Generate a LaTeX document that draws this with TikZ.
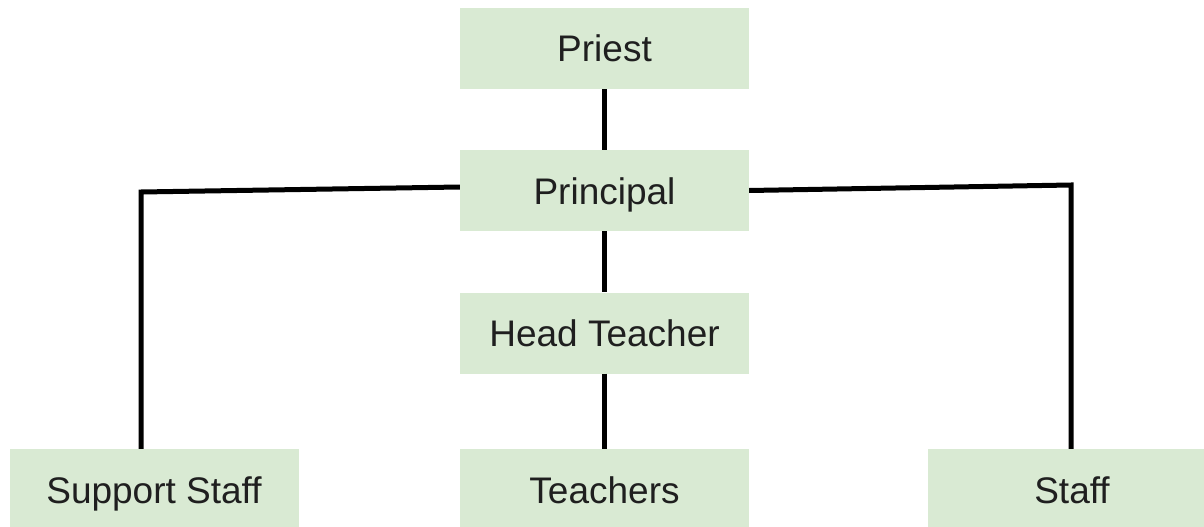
\documentclass[tikz,border=0pt]{standalone}
\usepackage{fontspec}
\setmainfont{Liberation Sans}
\definecolor{boxgreen}{HTML}{D9EAD3}
\definecolor{txt}{HTML}{1F1F1F}
\begin{document}
\begin{tikzpicture}[x=1pt,y=-1pt,
  role/.style={fill=boxgreen, draw=none, minimum width=289pt, minimum height=81pt,
    inner sep=0pt, text height=27pt, text depth=0pt, text=txt,
    font=\fontsize{37}{41}\selectfont},
  link/.style={line width=5pt, line join=miter, black}]
  \useasboundingbox (0,0) rectangle (1204,527);
  \clip (0,0) rectangle (1204,527);
  \fill[white] (0,0) rectangle (1204,527);

  % boxes of the chart
  \node[role] (priest)    at (604.5,48.5)  {Priest};
  \node[role] (principal) at (604.5,190.5) {Principal};
  \node[role] (head)      at (604.5,333)   {Head Teacher};
  \node[role] (teachers)  at (604.5,489.5) {Teachers};
  \node[role] (support)   at (154,489.5)   {Support Staff};
  \node[role] (staff)     at (1072,489.5)  {Staff};

  % corners of the side branches
  \coordinate (lcorner) at (141,192);
  \coordinate (rcorner) at (1071,185);

  % connectors
  \draw[link] (priest.south) -- (principal.north);
  \draw[link] (principal.south) -- (head.north);
  \draw[link] (head.south) -- (teachers.north);
  \draw[link] ([yshift=3.5pt]principal.west) -- (lcorner) -- (lcorner |- support.north);
  \draw[link] (principal.east) -- (rcorner) -- (rcorner |- staff.north);
\end{tikzpicture}
\end{document}
